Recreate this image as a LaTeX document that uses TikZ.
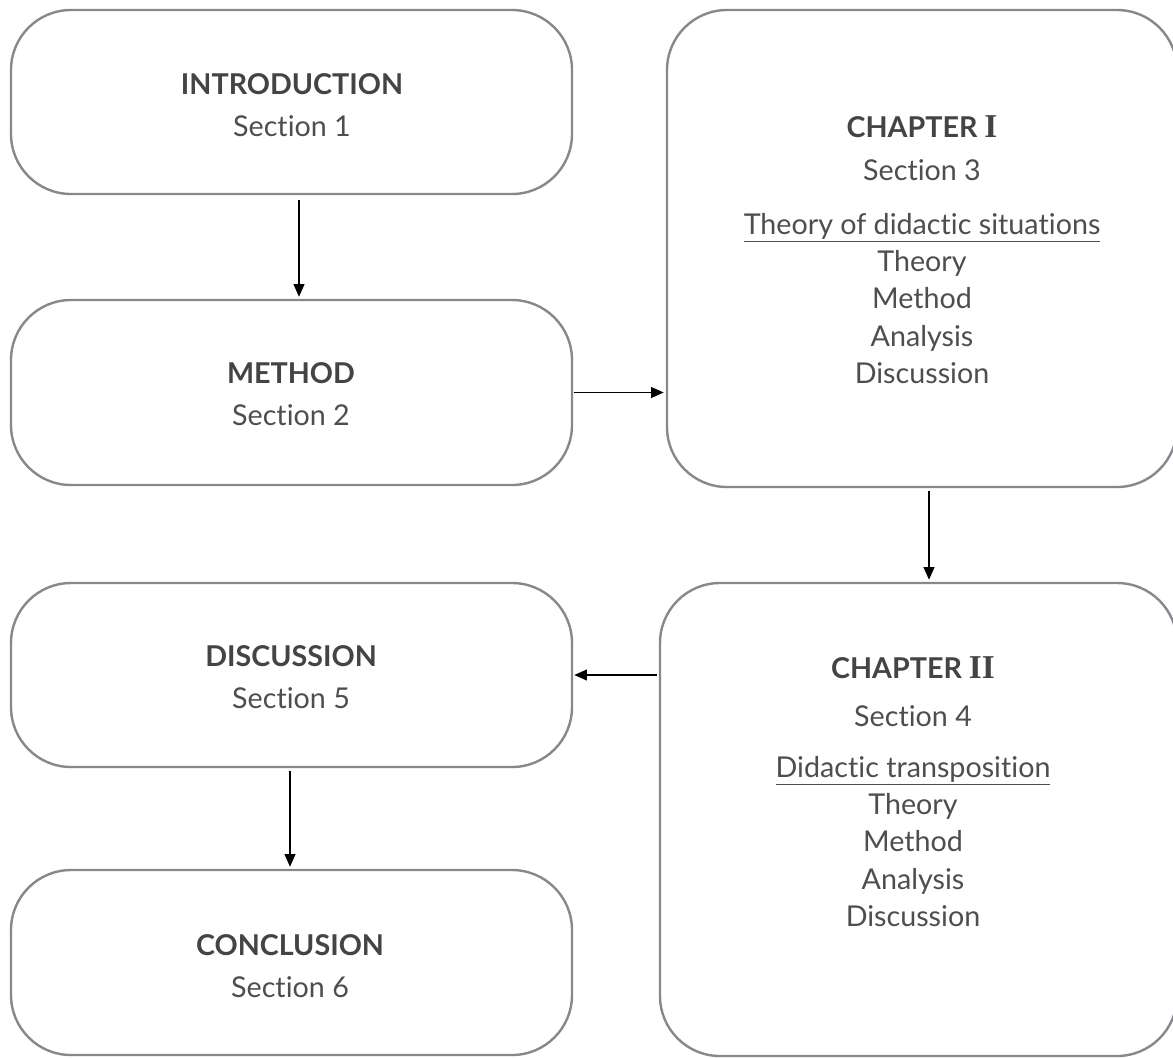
\documentclass[tikz,border=0pt]{standalone}
\usepackage{fontspec}
\setmainfont{Lato}[Ligatures=NoCommon, RawFeature={-liga;-dlig}]
\newfontfamily\numfont{Liberation Serif}
\usetikzlibrary{arrows.meta,calc}
\definecolor{boxgray}{HTML}{85888C}
\definecolor{headgray}{HTML}{444444}
\definecolor{bodygray}{HTML}{4E4E4E}
\tikzset{
  box/.style={draw=boxgray, line width=1.8pt, rounded corners=45pt, inner sep=0pt, fill=white},
  smallbox/.style={box, minimum width=561*0.75pt, minimum height=184*0.75pt},
  txt/.style={align=center, inner sep=0pt, text=bodygray, font=\fontsize{21.5}{28.1}\selectfont},
  arr/.style={-{Triangle[length=9.5pt,width=8pt]}, line width=1.4pt, black},
}
\newcommand{\hd}[1]{{\bfseries\color{headgray}#1}}
\newcommand{\rn}[1]{{\numfont\fontsize{25}{28}\selectfont #1}}
\begin{document}
\begin{tikzpicture}[x=0.75pt,y=-0.75pt]
\useasboundingbox (0,0) rectangle (1173,1057);
\clip (0,0) rectangle (1173,1057);
% boxes
\node[smallbox] (intro) at (291.5,102) {};
\node[smallbox, minimum height=185*0.75pt] (met) at (291.5,392.5) {};
\node[box, minimum width=510*0.75pt, minimum height=477*0.75pt] (chI) at (922,248.5) {};
\node[box, minimum width=517*0.75pt, minimum height=473*0.75pt] (chII) at (918.5,819.5) {};
\node[smallbox] (disc) at (291.5,675) {};
\node[smallbox, minimum height=185*0.75pt] (concl) at (291.5,962.5) {};
% texts
\node[txt] (introt) at (292,105) {\hd{INTRODUCTION}\\[3.5pt] Section 1};
\node[txt] (mett) at (291,394) {\hd{METHOD}\\[3.5pt] Section 2};
\node[txt] (chIt) at (922,250) {\hd{CHAPTER \rn{I}}\\[4pt] Section 3\\[12pt]
  \underline{Theory of didactic situations}\\ Theory\\ Method\\ Analysis\\ Discussion};
\node[txt] (chIIt) at (913,792) {\hd{CHAPTER \rn{II}}\\[8pt] Section 4\\[9.5pt]
  \underline{Didactic transposition}\\ Theory\\ Method\\ Analysis\\ Discussion};
\node[txt] (disct) at (291,677) {\hd{DISCUSSION}\\[3.5pt] Section 5};
\node[txt] (conclt) at (290,966) {\hd{CONCLUSION}\\[3.5pt] Section 6};
% arrows
\draw[arr] ($(intro.south)+(7.5,5)$) -- ($(met.north)+(7.5,-2)$);
\draw[arr] ($(met.east)+(1,0)$) -- ($(met.east -| chI.west)+(-2,0)$);
\draw[arr] ($(chI.south)+(7,3)$) -- ($(chII.north)+(10.5,-2)$);
\draw[arr] ($(chII.west |- disc.east)+(-2,0)$) -- ($(disc.east)+(1,0)$);
\draw[arr] ($(disc.south)+(-1.5,3)$) -- ($(concl.north)+(-1.5,-2)$);
\end{tikzpicture}
\end{document}
